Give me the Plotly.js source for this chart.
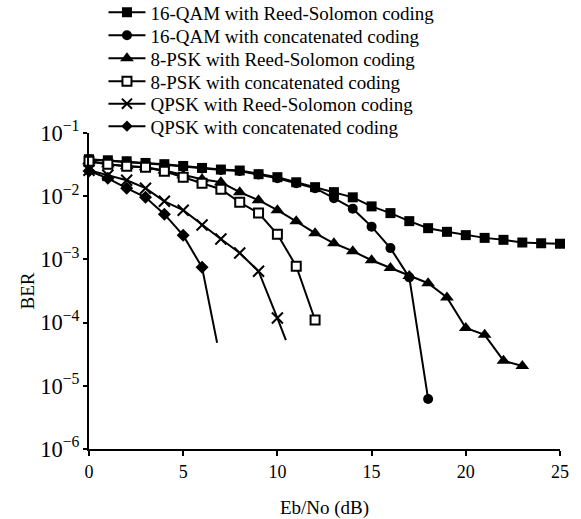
<!DOCTYPE html>
<html><head><meta charset="utf-8">
<script src="https://cdn.plot.ly/plotly-3.0.1.min.js"></script>
<style>html,body{margin:0;padding:0;background:#fff}#chart{width:581px;height:519px}</style>
</head><body><div id="chart"></div><script>
// Eb/No (dB) and BER values
const qam16RsX = [0,1,2,3,4,5,6,7,8,9,10,11,12,13,14,15,16,17,18,19,20,21,22,23,24,25];
const qam16RsY = [0.0385,0.037,0.0357,0.0336,0.0321,0.0301,0.028,0.0264,0.0255,0.0223,0.020,0.0166,0.0139,0.0116,0.0096,0.0069,0.0054,0.00403,0.00312,0.00273,0.00242,0.00219,0.00204,0.00185,0.0018,0.00177];

const qam16CcX = [0,1,2,3,4,5,6,7,8,9,10,11,12,13,14,15,16,17,18];
const qam16CcY = [0.038,0.0365,0.035,0.033,0.0315,0.0295,0.0275,0.026,0.025,0.022,0.0192,0.016,0.0134,0.0093,0.00635,0.0033,0.00151,0.00052,0.0000062];

const psk8RsX = [0,1,2,3,4,5,6,7,8,9,10,11,12,13,14,15,16,17,18,19,20,21,22,23];
const psk8RsY = [0.0357,0.032,0.0298,0.0287,0.0255,0.0215,0.0185,0.0166,0.0116,0.00865,0.006,0.004,0.0026,0.0018,0.00135,0.00097,0.00073,0.000545,0.00042,0.00025,0.000082,0.000064,0.000025,0.0000206];

const psk8CcX = [0,1,2,3,4,5,6,7,8,9,10,11,12];
const psk8CcY = [0.0357,0.032,0.0298,0.0287,0.0248,0.020,0.016,0.0129,0.008,0.0054,0.0025,0.00078,0.00011];

const qpskRsX = [0,1,2,3,4,5,6,7,8,9,10,10.45];
const qpskRsY = [0.0258,0.0215,0.0179,0.0134,0.0083,0.006,0.0035,0.0021,0.00126,0.00065,0.000118,0.000053];

const qpskCcX = [0,1,2,3,4,5,6,6.8];
const qpskCcY = [0.025,0.0192,0.0134,0.0096,0.0052,0.0024,0.00075,0.000048];

const seriesNames = [
  '16-QAM with Reed-Solomon coding',
  '16-QAM with concatenated coding',
  '8-PSK with Reed-Solomon coding',
  '8-PSK with concatenated coding',
  'QPSK with Reed-Solomon coding',
  'QPSK with concatenated coding'
];
const xTickVals = [0,5,10,15,20,25];

function sizes(xs, s){ return xs.map(v => Number.isInteger(v) ? s : 0); }
const lineStyle = {color:'#000', width:2};
function tr(i, x, y, marker){
  marker.opacity = 1;
  return {x:x, y:y, name:seriesNames[i], type:'scatter', mode:'lines+markers', line:lineStyle,
          marker:marker, cliponaxis:false, legend: i === 0 ? 'legend' : 'legend' + (i + 1)};
}
const data = [
  tr(0, qam16RsX, qam16RsY, {symbol:'square', size:10, color:'#000', line:{width:0}}),
  tr(1, qam16CcX, qam16CcY, {symbol:'circle', size:10, color:'#000', line:{width:0}}),
  tr(2, psk8RsX, psk8RsY, {symbol:'triangle-up', size:12, color:'#000', line:{width:0}}),
  tr(3, psk8CcX, psk8CcY, {symbol:'square', size:9, color:'#fff', line:{color:'#000', width:2}}),
  tr(4, qpskRsX, qpskRsY, {symbol:'x-thin', size:sizes(qpskRsX, 11), color:'#000', line:{color:'#000', width:2}}),
  tr(5, qpskCcX, qpskCcY, {symbol:'diamond', size:sizes(qpskCcX, 10), color:'#000', line:{width:0}})
];

const serif = 'Liberation Serif, Times New Roman, serif';
const legendCentersPx = [12, 35, 58, 81, 103.5, 126];
const plotBottomPx = 449, plotHeightPx = 316.3;
const layout = {
  width:581, height:519,
  margin:{l:88.5, r:20.5, t:132.7, b:70, autoexpand:false},
  paper_bgcolor:'#fff', plot_bgcolor:'#fff',
  font:{family:serif, color:'#000', size:18},
  showlegend:true,
  xaxis:{range:[0,25], tickvals:xTickVals, ticks:'outside', ticklen:5, tickwidth:2, tickcolor:'#000',
         showline:true, linecolor:'#000', linewidth:2, showgrid:false, zeroline:false,
         tickfont:{family:serif, size:18, color:'#000'},
         title:{text:'Eb/No (dB)', font:{family:serif, size:19, color:'#000'}}},
  yaxis:{type:'log', range:[-6,-1], dtick:1, exponentformat:'power', ticks:'outside', ticklen:4, tickwidth:2, tickcolor:'#000',
         showline:true, linecolor:'#000', linewidth:2, showgrid:false, zeroline:false,
         tickfont:{family:serif, size:18, color:'#000'},
         title:{text:'BER', font:{family:serif, size:19, color:'#000'}}}
};
legendCentersPx.forEach((cy, i) => {
  const key = i === 0 ? 'legend' : 'legend' + (i + 1);
  layout[key] = {x:0.0307, xanchor:'left', y:(plotBottomPx - cy) / plotHeightPx, yanchor:'middle',
                 bgcolor:'rgba(0,0,0,0)', itemwidth:37,
                 font:{family:serif, size:19, color:'#000'}};
});
Plotly.newPlot('chart', data, layout, {displayModeBar:false, staticPlot:true});
</script></body></html>
